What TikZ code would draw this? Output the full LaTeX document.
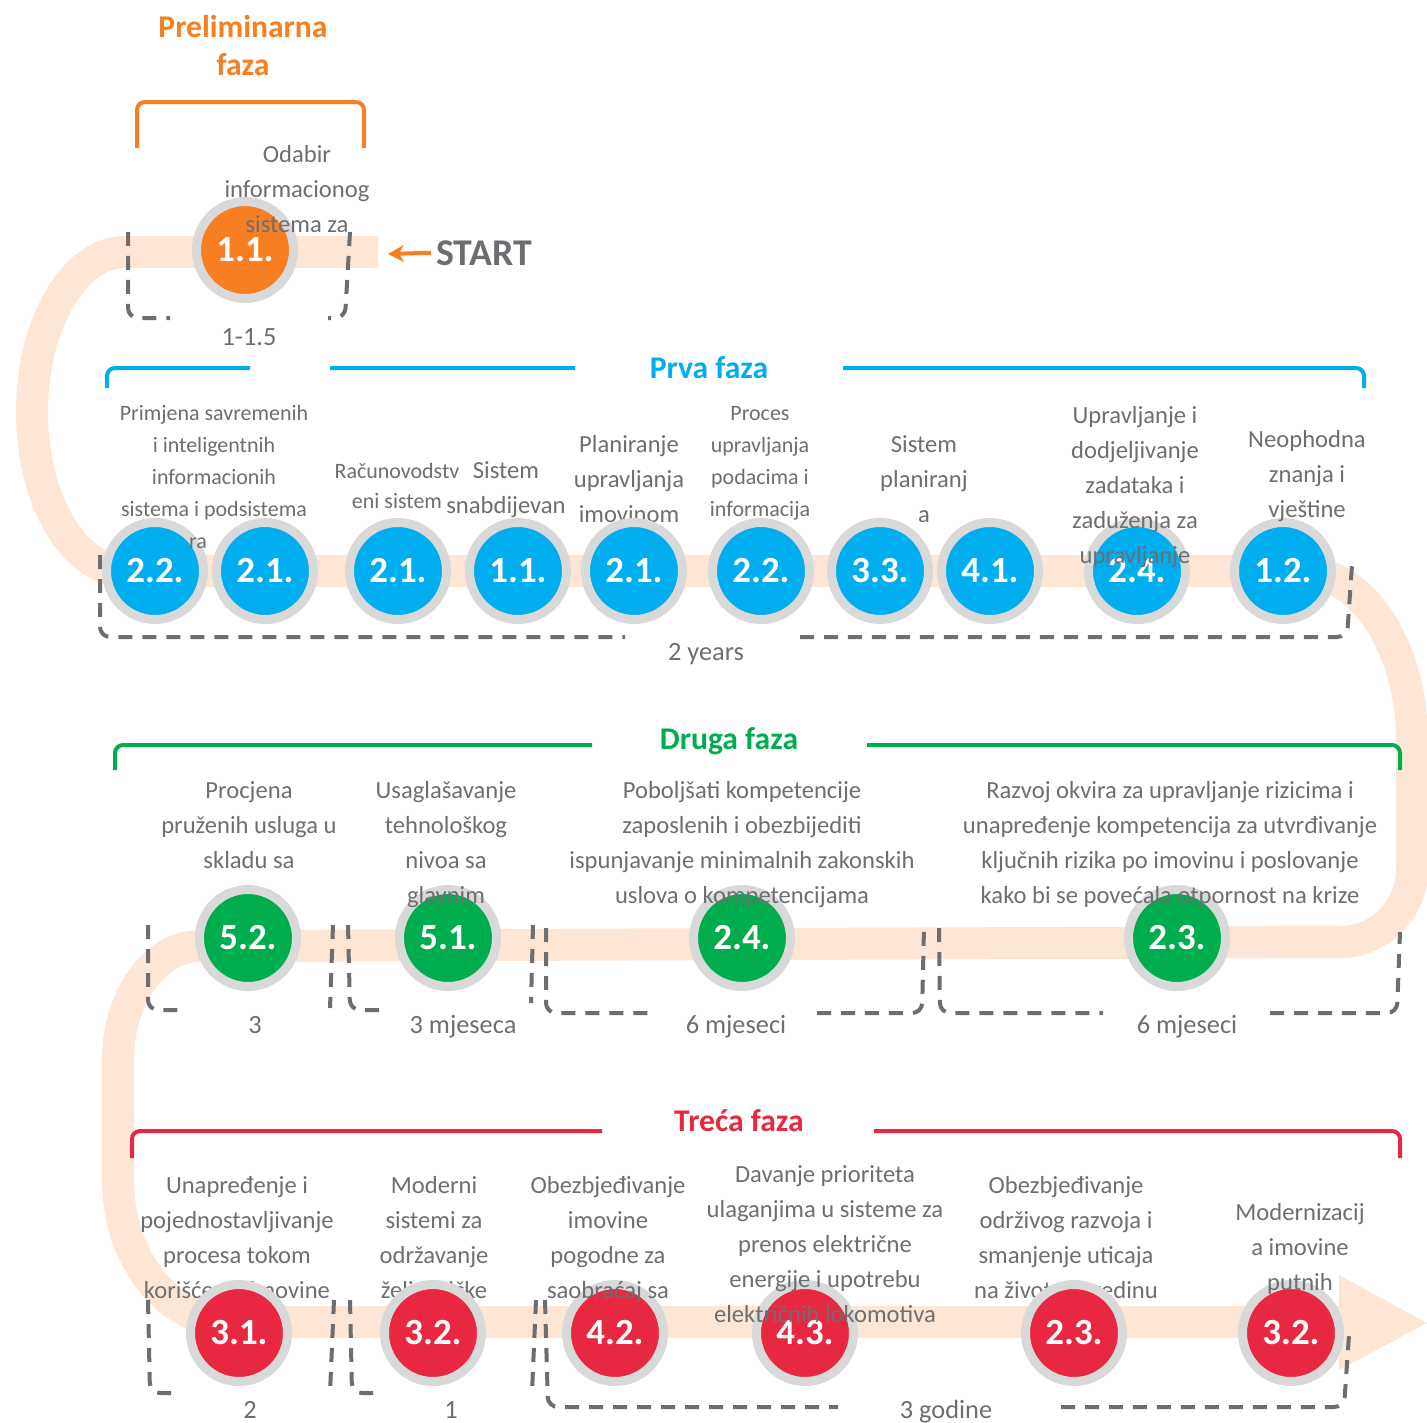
\documentclass[tikz,border=0pt]{standalone}
\usepackage{fontspec}
\setmainfont{Carlito}
\usepackage{tikz}
\usetikzlibrary{arrows.meta,positioning,calc}

\definecolor{prelim}{RGB}{247,127,34}
\definecolor{prva}{RGB}{0,174,239}
\definecolor{druga}{RGB}{0,173,78}
\definecolor{treca}{RGB}{232,40,65}
\definecolor{trail}{RGB}{253,230,214}
\definecolor{ring}{RGB}{217,217,217}
\definecolor{txt}{RGB}{109,110,113}

\tikzset{
  milestone/.style={circle,fill=#1,draw=ring,line width=0.18cm,minimum size=1.94cm,inner sep=0pt,text=white,font=\fontsize{21}{24}\selectfont\bfseries},
  task/.style={text=txt,align=center,inner sep=0pt,anchor=base,font=\fontsize{14}{19.8}\selectfont},
  tasksm/.style={task,font=\fontsize{12.5}{18.1}\selectfont},
  term/.style={text=txt,inner sep=0pt,anchor=base,font=\fontsize{15}{18}\selectfont},
  period/.style={draw=txt,line width=0.08cm,dash pattern=on 0.28cm off 0.2cm,rounded corners=0.2cm},
  phasebar/.style={draw=#1,line width=0.08cm,rounded corners=0.16cm},
  phasename/.style={text=#1,inner sep=0pt,anchor=base,align=center,font=\fontsize{18}{21.5}\selectfont\bfseries}
}

\begin{document}
\begin{tikzpicture}[x=0.02cm,y=-0.02cm,line join=round]
  \useasboundingbox (0,0) rectangle (1427,1423);
  % road
  \draw[trail,line width=0.64cm] (378,252) -- (125,252) .. controls (74,252) and (32,324) .. (32,412)
    .. controls (32,500) and (74,571) .. (125,571) -- (1300,571)
    .. controls (1362,571) and (1412,647) .. (1412,740) -- (1412,870)
    .. controls (1412,909) and (1380,942) .. (1340,942) -- (200,946)
    .. controls (155,946) and (118,997) .. (118,1060) -- (118,1180)
    .. controls (118,1258) and (168,1322) .. (230,1322) -- (1345,1322);
  \fill[trail] (1339,1275) -- (1427,1323) -- (1339,1370) -- cycle;

  % texts behind the milestones (y = last base line)
  \node[task] (t12) at (629,522) {Planiranje\\upravljanja\\imovinom};
  \node[task] (t31) at (237,1298) {Unapređenje i\\pojednostavljivanje\\procesa tokom\\korišćenja imovine};
  \node[task] (t32) at (434,1298) {Moderni\\sistemi za\\održavanje\\željezničke};
  \node[task] (t35) at (1066,1298) {Obezbjeđivanje\\održivog razvoja i\\smanjenje uticaja\\na životnu sredinu};

  % durations
  \draw[period] (128,232) -- (128,318) -- (170,318);
  \draw[period] (350,232) -- (345,318) -- (328,318);
  \draw[period] (100,555) -- (100,637) -- (625,637);
  \draw[period] (800,637) -- (1347,637) -- (1352,565);
  \draw[period] (148,925) -- (148,1010) -- (182,1010);
  \draw[period] (333,925) -- (330,1008);
  \draw[period] (348,925) -- (350,1010) -- (382,1010);
  \draw[period] (533,925) -- (531,1003);
  \draw[period] (546,928) -- (546,1013) -- (655,1013);
  \draw[period] (817,1013) -- (922,1013) -- (924,928);
  \draw[period] (939,928) -- (940,1013) -- (1103,1013);
  \draw[period] (1270,1013) -- (1397,1013) -- (1400,932);
  \draw[period] (148,1300) -- (150,1393) -- (180,1393);
  \draw[period] (334,1300) -- (330,1393);
  \draw[period] (350,1300) -- (352,1393) -- (382,1393);
  \draw[period] (536,1300) -- (532,1392);
  \draw[period] (545,1300) -- (548,1407) -- (838,1407);
  \draw[period] (1061,1407) -- (1344,1407) -- (1349,1335);

  % milestones
  \node[milestone=prelim] (m0) at (245,250) {1.1.};
  \foreach \x/\lab [count=\i] in {155/2.2.,265/2.1.,398/2.1.,518/1.1.,634/2.1.,761/2.2.,880/3.3.,990/4.1.,1137/2.4.,1283/1.2.}
    {\node[milestone=prva] (p\i) at (\x,571) {\lab};}
  \foreach \x/\lab [count=\i] in {248/5.2.,448/5.1.,742/2.4.,1177/2.3.}
    {\node[milestone=druga] (d\i) at (\x,938) {\lab};}
  \foreach \x/\lab [count=\i] in {239/3.1.,433/3.2.,615/4.2.,805/4.3.,1074/2.3.,1291/3.2.}
    {\node[milestone=treca] (r\i) at (\x,1333) {\lab};}

  % texts
  \node[task] (t00) at (297,232) {Odabir\\informacionog\\sistema za};
  \node[tasksm] (t11) at (214,516) {Primjena savremenih\\i inteligentnih\\informacionih\\sistema i podsistema};
  \node[tasksm] (t11b) at (198,548) {ra};
  \node[tasksm,font=\fontsize{12.5}{17}\selectfont] (t13) at (397,508) {Računovodstv\\eni sistem};
  \node[task] (t14) at (506,513) {Sistem\\snabdijevan};
  \node[tasksm] (t15) at (760,516) {Proces\\upravljanja\\podacima i\\informacija};
  \node[task] (t16) at (924,522) {Sistem\\planiranj\\a};
  \node[task] (t17) at (1135,563) {Upravljanje i\\dodjeljivanje\\zadataka i\\zaduženja za\\upravljanje};
  \node[task] (t18) at (1307,517) {Neophodna\\znanja i\\vještine};
  \node[task] (t21) at (249,868) {Procjena\\pruženih usluga u\\skladu sa};
  \node[task] (t22) at (446,903) {Usaglašavanje\\tehnološkog\\nivoa sa\\glavnim};
  \node[task] (t23) at (742,903) {Poboljšati kompetencije\\zaposlenih i obezbijediti\\ispunjavanje minimalnih zakonskih\\uslova o kompetencijama};
  \node[task] (t24) at (1170,903) {Razvoj okvira za upravljanje rizicima i\\unapređenje kompetencija za utvrđivanje\\ključnih rizika po imovinu i poslovanje\\kako bi se povećala otpornost na krize};
  \node[task] (t33) at (608,1298) {Obezbjeđivanje\\imovine\\pogodne za\\saobraćaj sa};
  \node[task] (t34) at (825,1322) {Davanje prioriteta\\ulaganjima u sisteme za\\prenos električne\\energije i upotrebu\\električnih lokomotiva};
  \node[task] (t36) at (1300,1290) {Modernizacij\\a imovine\\putnih};

  \node[term] (l0) at (249,345) {1-1.5};
  \node[term] (l1) at (706,660) {2 years};
  \node[term] (l21) at (255,1033) {3};
  \node[term] (l22) at (463,1033) {3 mjeseca};
  \node[term] (l23) at (736,1033) {6 mjeseci};
  \node[term] (l24) at (1187,1033) {6 mjeseci};
  \node[term] (l31) at (250,1418) {2};
  \node[term] (l32) at (451,1418) {1};
  \node[term] (l33) at (946,1418) {3 godine};

  % phases
  \node[phasename=prelim] (h0) at (243,75) {Preliminarna\\faza};
  \node[phasename=prva] (h1) at (709,378) {Prva faza};
  \node[phasename=druga] (h2) at (729,749) {Druga faza};
  \node[phasename=treca] (h3) at (739,1131) {Treća faza};
  \draw[phasebar=prelim] (137,148) -- (137,102) -- (364,102) -- (364,148);
  \draw[phasebar=prva] (107,388) -- (107,368) -- (250,368) (330,368) -- (575,368) (843,368) -- (1364,368) -- (1364,388);
  \draw[phasebar=druga] (115,770) -- (115,745) -- (592,745) (867,745) -- (1400,745) -- (1400,770);
  \draw[phasebar=treca] (132,1158) -- (132,1131) -- (602,1131) (874,1131) -- (1400,1131) -- (1400,1158);

  % start
  \coordinate (road) at (388,254);
  \node[text=txt,inner sep=0pt,anchor=base west,font=\fontsize{21.5}{21.5}\selectfont\bfseries] (start) at (436,265) {START};
  \draw[prelim,line width=0.08cm,-{Stealth[length=0.32cm,width=0.34cm]}] ([xshift=-0.1cm]start.west) -- (road);
\end{tikzpicture}
\end{document}
